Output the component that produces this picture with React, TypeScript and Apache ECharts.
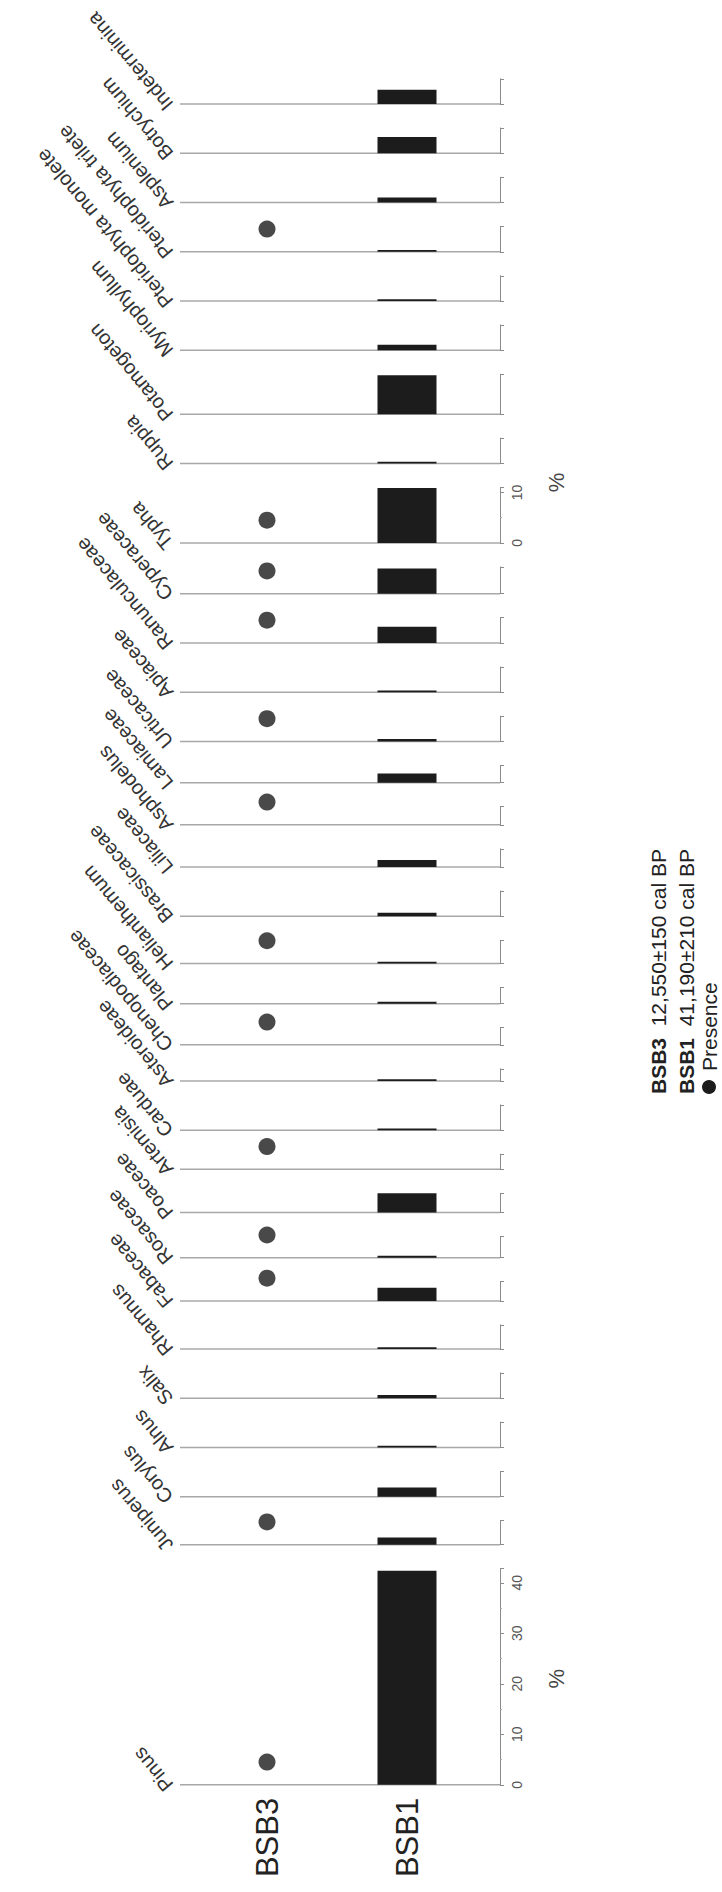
import React, { useEffect, useRef } from "react";
import * as echarts from "echarts";

// Taxa, top of the page to bottom (the figure is printed rotated)
const taxa = [
  "Indeterminina", "Botrychium", "Asplenium", "Pteridophyta trilete", "Pteridophyta monolete",
  "Myriophyllum", "Potamogeton", "Ruppia", "Typha", "Cyperaceae", "Ranunculaceae", "Apiaceae",
  "Urticaceae", "Lamiaceae", "Asphodelus", "Liliaceae", "Brassicaceae", "Helianthemum",
  "Plantago", "Chenopodiaceae", "Asteroideae", "Carduae", "Artemisia", "Poaceae", "Rosaceae",
  "Fabaceae", "Rhamnus", "Salix", "Alnus", "Corylus", "Juniperus", "Pinus",
];
// BSB1 percentages
const bsb1Values = [
  2.8, 3.2, 1.0, 0.35, 0.35, 1.1, 7.7, 0.35, 10.9, 5.0, 3.2, 0.35,
  0.5, 1.8, 0, 1.4, 0.7, 0.35, 0.35, 0, 0.35, 0.35, 0, 3.8, 0.4,
  2.6, 0.35, 0.6, 0.35, 1.8, 1.4, 42.4,
];
// BSB3 presence (1 = present)
const bsb3Presence = [
  0, 0, 0, 1, 0, 0, 0, 0, 1, 1, 1, 0,
  1, 0, 1, 0, 0, 1, 0, 1, 0, 0, 1, 0, 1,
  1, 0, 0, 0, 0, 1, 1,
];
// Axis range (%) of each taxon panel
const axisMax = [
  5, 5, 5, 5, 5, 5, 7.9, 5, 11, 5.3, 5, 5,
  5, 3.4, 3.6, 3.6, 5, 4.6, 3.2, 3.4, 2.4, 5, 3, 3.8, 4.2,
  3.8, 4.75, 5, 5, 5, 4.75, 42.8,
];
const samples = ["BSB3", "BSB1"];
const legendRows = [
  { sample: "BSB3", age: "12,550±150 cal BP" },
  { sample: "BSB1", age: "41,190±210 cal BP" },
];
const presenceLabel = "Presence";
const unitLabel = "%";
const PRESENCE_MARK = 4.5; // % height at which presence dots are drawn
const LABELLED_AXES = ["Typha", "Pinus"];
const UNIT_AT = [12, 21]; // % level where the "%" unit sits for Typha / Pinus axes

const FONT = "'Liberation Sans', Arial, Helvetica, sans-serif";
const PX_PER_PCT = 5.05;
const GAP = 24;
const FIRST_ZERO = 104;
const LINE_X0 = 180;
const AXIS_X = 500;
const GRID_LEFT = 197;
const GRID_W = 280;
const INK = "#1c1c1c";

export default function App() {
  const ref = useRef<HTMLDivElement>(null);

  useEffect(() => {
    if (!ref.current) return;
    const chart = echarts.init(ref.current, undefined, { renderer: "svg" });

    // panel layout (zero line positions)
    const zeros: number[] = [];
    taxa.forEach((_, i) => {
      if (i === 0) zeros.push(FIRST_ZERO);
      else zeros.push(zeros[i - 1] + GAP + axisMax[i] * PX_PER_PCT);
    });

    const grids: any[] = [];
    const xAxes: any[] = [];
    const yAxes: any[] = [];
    const series: any[] = [];
    const graphics: any[] = [];

    taxa.forEach((name, i) => {
      const h = axisMax[i] * PX_PER_PCT;
      const isLast = i === taxa.length - 1;
      const labelIdx = LABELLED_AXES.indexOf(name);
      const labelled = labelIdx >= 0;
      grids.push({ left: GRID_LEFT, width: GRID_W, top: zeros[i] - h, height: h });
      xAxes.push({
        type: "category",
        gridIndex: i,
        data: samples,
        axisLine: { show: false },
        axisTick: { show: false },
        axisLabel: isLast
          ? { show: true, rotate: 90, interval: 0, fontSize: 31, color: "#222", margin: 13, fontFamily: FONT }
          : { show: false },
      });
      yAxes.push({
        type: "value",
        gridIndex: i,
        position: "right",
        offset: AXIS_X - (GRID_LEFT + GRID_W),
        min: 0,
        max: axisMax[i],
        interval: labelled ? 10 : axisMax[i],
        splitLine: { show: false },
        axisLine: { show: true, lineStyle: { color: "#8a8a8a", width: 1 } },
        axisTick: { show: true, length: 4, lineStyle: { color: "#8a8a8a" } },
        minorTick: labelled ? { show: true, splitNumber: 2, length: 2, lineStyle: { color: "#aaa" } } : { show: false },
        axisLabel: labelled
          ? { show: true, rotate: 90, fontSize: 14, color: "#555", margin: 10, showMaxLabel: false, fontFamily: FONT }
          : { show: false },
      });
      series.push({
        type: "bar",
        xAxisIndex: i,
        yAxisIndex: i,
        barWidth: 59,
        itemStyle: { color: INK },
        data: ["-", bsb1Values[i]],
      });
      series.push({
        type: "scatter",
        xAxisIndex: i,
        yAxisIndex: i,
        symbolSize: 17,
        clip: false,
        itemStyle: { color: INK },
        data: [bsb3Presence[i] ? PRESENCE_MARK : "-", "-"],
      });
      graphics.push({
        type: "line",
        z: -1,
        shape: { x1: LINE_X0, y1: zeros[i], x2: AXIS_X, y2: zeros[i] },
        style: { stroke: "#a8a8a8", lineWidth: 1.5 },
      });
      graphics.push({
        type: "text",
        x: 169,
        y: zeros[i] + 4,
        rotation: (130 * Math.PI) / 180,
        style: {
          text: name,
          fill: "#333",
          font: `20px ${FONT}`,
          align: "left",
          verticalAlign: "middle",
        },
      });
      if (labelled) {
        graphics.push({
          type: "text",
          x: 556,
          y: zeros[i] - UNIT_AT[labelIdx] * PX_PER_PCT,
          rotation: Math.PI / 2,
          style: { text: unitLabel, fill: "#444", font: `22px ${FONT}`, align: "center", verticalAlign: "middle" },
        });
      }
    });

    // legend (rotated, reading bottom to top)
    const legendX = [658, 686];
    legendRows.forEach((row, k) => {
      graphics.push({
        type: "text",
        x: legendX[k],
        y: 1094,
        rotation: Math.PI / 2,
        style: {
          text: `{b|${row.sample}}  ${row.age}`,
          rich: { b: { fontWeight: "bold", fontSize: 21, fontFamily: FONT, fill: "#222" } },
          fill: "#222",
          font: `21px ${FONT}`,
          align: "left",
          verticalAlign: "middle",
        },
      });
    });
    graphics.push({ type: "circle", shape: { cx: 709, cy: 1087, r: 7 }, style: { fill: INK } });
    graphics.push({
      type: "text",
      x: 709,
      y: 1071,
      rotation: Math.PI / 2,
      style: { text: presenceLabel, fill: "#222", font: `21px ${FONT}`, align: "left", verticalAlign: "middle" },
    });

    chart.setOption({
      animation: false,
      backgroundColor: "#ffffff",
      grid: grids,
      xAxis: xAxes,
      yAxis: yAxes,
      series,
      graphic: graphics,
    });
    return () => chart.dispose();
  }, []);

  return (
    <div
      ref={ref}
      style={{ position: "absolute", left: 0, top: 0, width: 722, height: 1892 }}
    />
  );
}
